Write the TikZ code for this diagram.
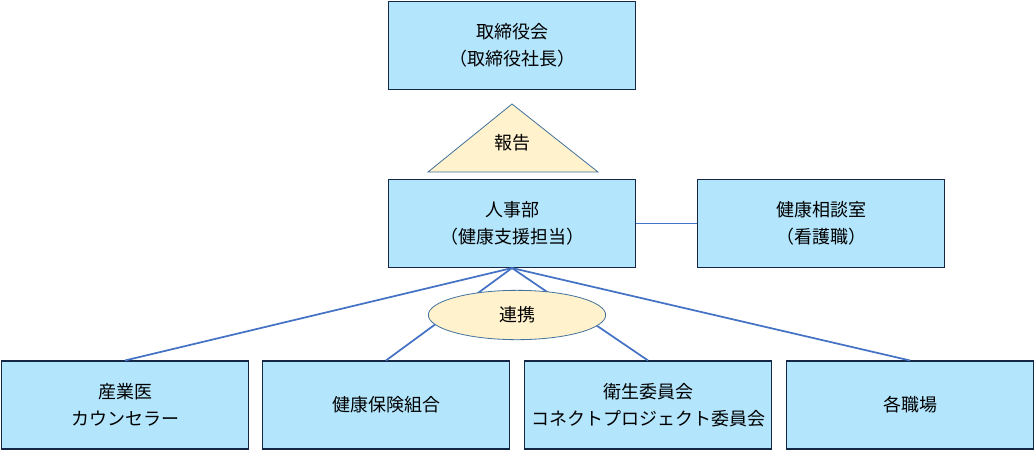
\documentclass[tikz,border=0pt]{standalone}
\usepackage{fontspec}
\setmainfont{Noto Sans CJK JP}
\usetikzlibrary{shapes.geometric,positioning}
\definecolor{boxfill}{RGB}{179,229,252}
\definecolor{boxline}{RGB}{20,40,70}
\definecolor{linkblue}{RGB}{68,114,196}
\definecolor{notefill}{RGB}{255,242,204}
\definecolor{noteline}{RGB}{65,113,156}

\begin{document}
\begin{tikzpicture}[x=0.75pt, y=-0.75pt,
    unit/.style={draw=boxline, fill=boxfill, line width=0.8pt, minimum width=185pt,
        minimum height=66pt, align=center, font=\fontsize{13.5}{20}\selectfont},
    link/.style={draw=linkblue, line width=1.3pt},
    note/.style={draw=noteline, fill=notefill, line width=0.6pt}]
    \useasboundingbox (0,0) rectangle (1036,451);

    % Top rows
    \node[unit] (board) at (512,45.5) {取締役会\\（取締役社長）};
    \node[unit] (hr) at (512,223.5) {人事部\\（健康支援担当）};
    \node[unit] (room) at (821,223.5) {健康相談室\\（看護職）};

    % Report triangle
    \draw[note] (512,104) -- (598,172) -- (428,172) -- cycle;
    \node[font=\fontsize{13.5}{20}\selectfont] (report) at (512,143) {報告};

    % Bottom row
    \node[unit] (doctor) at (125,405) {産業医\\カウンセラー};
    \node[unit] (union) at (386,405) {健康保険組合};
    \node[unit] (committee) at (648,405) {衛生委員会\\コネクトプロジェクト委員会};
    \node[unit] (sites) at (910,405) {各職場};

    % Connectors
    \draw[link] (hr.east) -- (room.west);
    \foreach \n in {doctor, union, committee, sites}
        \draw[link] (hr.south) -- (\n.north);

    % Cooperation ellipse
    \node[note, ellipse, minimum width=133pt, minimum height=37pt,
        font=\fontsize{13.5}{20}\selectfont] (coop) at (517,315) {連携};
\end{tikzpicture}
\end{document}
